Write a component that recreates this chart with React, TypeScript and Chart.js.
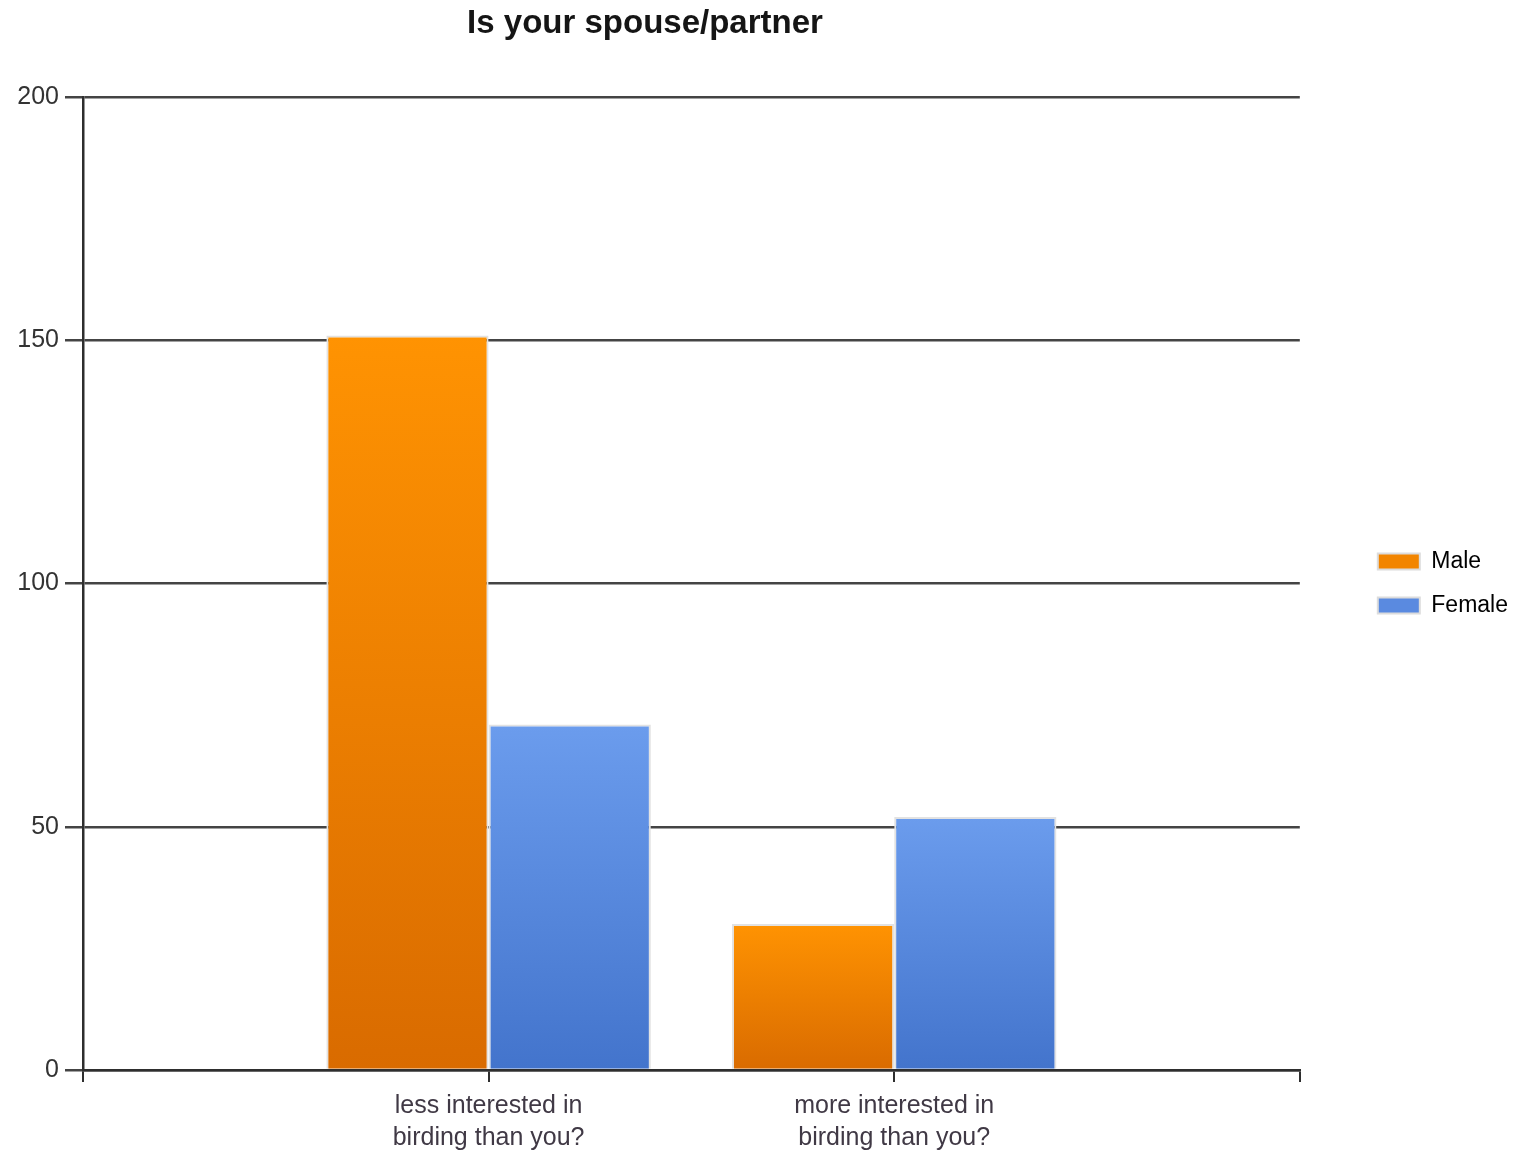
import React, { useEffect, useRef } from "react";
import { Chart, registerables } from "chart.js";

Chart.register(...registerables);

const chartTitle = "Is your spouse/partner";
const categories: string[][] = [
  ["less interested in", "birding than you?"],
  ["more interested in", "birding than you?"],
];
const seriesNames = ["Male", "Female"];
const maleValues = [151, 30];
const femaleValues = [71, 52];
const yTicks = [0, 50, 100, 150, 200];

const FONT = '"Liberation Sans", Arial, sans-serif';

// pad with an empty slot on each side (the axis has 3 equal intervals)
const padded = <T,>(arr: T[], empty: T): T[] => [empty, ...arr, empty];

const gradientFill = (topColor: string, bottomColor: string) => (c: any) => {
  const chart = c.chart;
  if (!chart.chartArea || c.type !== "data" || c.parsed == null || c.parsed.y == null) return topColor;
  const y = chart.scales.y;
  const yTop = y.getPixelForValue(c.parsed.y);
  const yBase = y.getPixelForValue(0);
  if (!isFinite(yTop) || !isFinite(yBase) || yTop === yBase) return topColor;
  const g = chart.ctx.createLinearGradient(0, yTop, 0, yBase);
  g.addColorStop(0, topColor);
  g.addColorStop(1, bottomColor);
  return g;
};

const titlePlugin = {
  id: "customTitle",
  afterDraw(chart: any) {
    const ctx = chart.ctx;
    ctx.save();
    ctx.font = `bold 33px ${FONT}`;
    ctx.fillStyle = "#151515";
    ctx.textAlign = "center";
    ctx.textBaseline = "middle";
    ctx.fillText(chartTitle, 645, 24);
    ctx.restore();
  },
};

export default function App() {
  const ref = useRef<HTMLCanvasElement | null>(null);

  useEffect(() => {
    if (!ref.current) return;
    const chart = new Chart(ref.current, {
      type: "bar",
      data: {
        labels: padded<any>(categories, ""),
        datasets: [
          {
            label: seriesNames[0],
            data: padded<any>(maleValues, null),
            backgroundColor: gradientFill("#ff9302", "#d96b00"),
            borderColor: "#e2e2e2",
            borderWidth: 2,
          },
          {
            label: seriesNames[1],
            data: padded<any>(femaleValues, null),
            backgroundColor: gradientFill("#6b9ced", "#4374cc"),
            borderColor: "#e2e2e2",
            borderWidth: 2,
          },
        ],
      },
      options: {
        animation: false,
        responsive: false,
        layout: { padding: { top: 97, right: 3, left: 0, bottom: 0 } },
        datasets: { bar: { categoryPercentage: 0.8, barPercentage: 1.0 } },
        scales: {
          x: {
            type: "category",
            offset: false,
            grid: {
              display: true,
              offset: false,
              drawOnChartArea: false,
              drawTicks: true,
              tickLength: 12,
              color: "#2e2e2e",
              lineWidth: 2,
            },
            border: { display: true, color: "#2e2e2e", width: 2.5 },
            ticks: {
              font: { family: FONT, size: 25, lineHeight: 1.28 },
              color: "#403945",
              padding: 8,
              maxRotation: 0,
              autoSkip: false,
            },
            afterFit(s: any) {
              s.height = 82;
            },
          },
          y: {
            type: "linear",
            min: 0,
            max: 200,
            afterBuildTicks(s: any) {
              s.ticks = yTicks.map((v) => ({ value: v }));
            },
            grid: {
              color: "#444444",
              lineWidth: 2.5,
              drawTicks: true,
              tickLength: 18,
            },
            border: { display: true, color: "#2e2e2e", width: 2.5 },
            ticks: {
              font: { family: FONT, size: 25 },
              color: "#333333",
              padding: 6,
            },
            afterFit(s: any) {
              s.width = 83;
            },
          },
          pad: {
            type: "linear",
            position: "right",
            display: true,
            grid: { display: false },
            border: { display: false },
            ticks: { display: false },
            afterFit(s: any) {
              s.width = 57;
            },
          },
        },
        plugins: {
          title: { display: false },
          tooltip: { enabled: false },
          legend: {
            display: true,
            position: "right",
            fullSize: false,
            align: "center",
            labels: {
              boxWidth: 42,
              boxHeight: 16,
              padding: 21,
              color: "#3a3a3a",
              font: { family: FONT, size: 23 },
              generateLabels: () => [
                { text: seriesNames[0], fillStyle: "#f28500", strokeStyle: "#dcdcdc", lineWidth: 2, datasetIndex: 0 },
                { text: seriesNames[1], fillStyle: "#5a8ae0", strokeStyle: "#dcdcdc", lineWidth: 2, datasetIndex: 1 },
              ],
            },
          },
        },
      },
      plugins: [titlePlugin],
    } as any);
    return () => chart.destroy();
  }, []);

  return (
    <div style={{ position: "absolute", left: 0, top: 0, width: 1521, height: 1152, background: "#ffffff" }}>
      <canvas ref={ref} width={1521} height={1152} />
    </div>
  );
}
